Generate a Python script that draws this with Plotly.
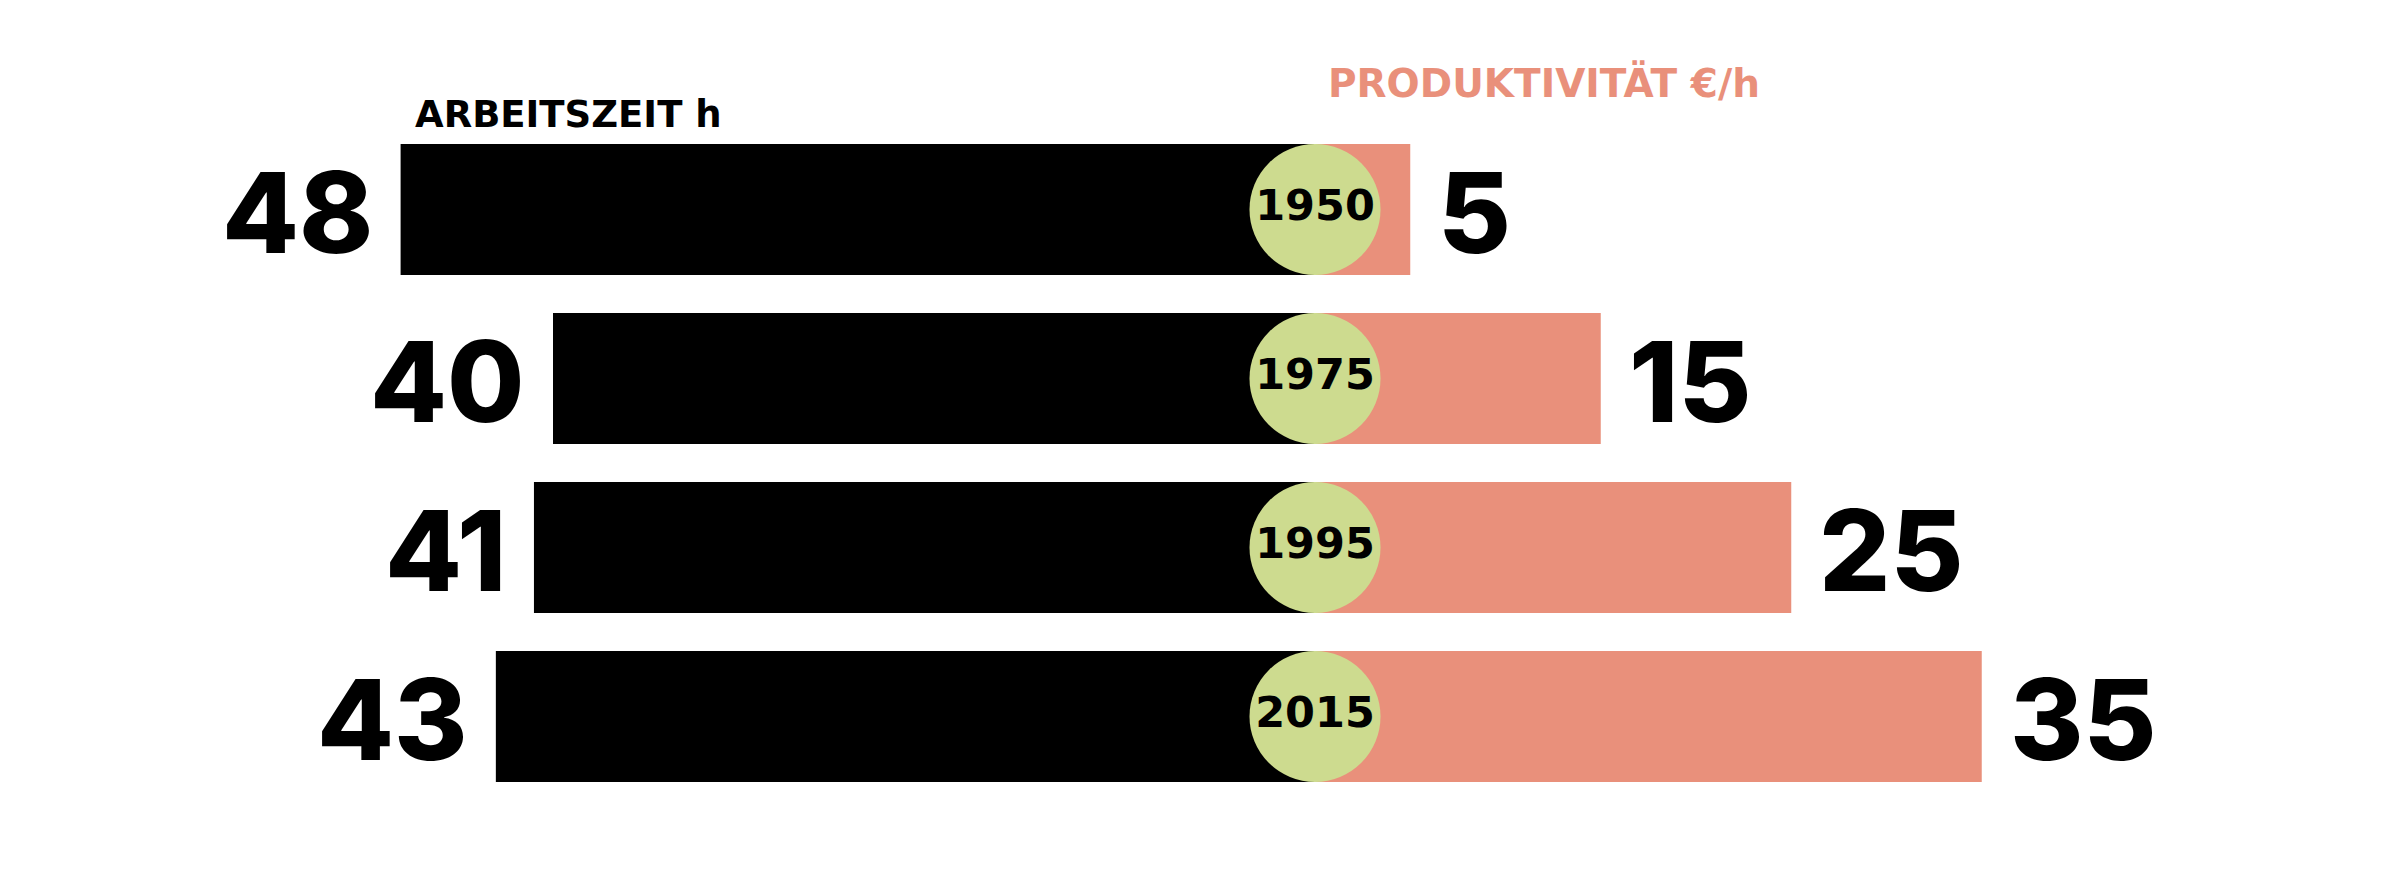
import plotly.graph_objects as go

years = ["1950", "1975", "1995", "2015"]
arbeitszeit = [48, 40, 41, 43]
produktivitaet = [5, 15, 25, 35]

BLACK = "#000000"
SALMON = "#E9907B"
GREEN = "#CDDB8F"
FONT = "Inter"
WIDE = "DejaVu Sans"

ypos = list(range(len(years)))

fig = go.Figure()
fig.add_trace(go.Bar(
    y=ypos, x=[-v for v in arbeitszeit], orientation="h", width=0.775,
    marker=dict(color=BLACK, line=dict(width=0)), hoverinfo="skip",
))
fig.add_trace(go.Bar(
    y=ypos, x=produktivitaet, orientation="h", width=0.775,
    marker=dict(color=SALMON, line=dict(width=0)), hoverinfo="skip",
))
fig.add_trace(go.Scatter(
    y=ypos, x=[0] * len(years), mode="markers+text", text=years,
    textposition="middle center",
    textfont=dict(family=WIDE, size=43, color=BLACK, weight="bold"),
    marker=dict(size=131, color=GREEN, line=dict(width=0)), hoverinfo="skip",
))

for i, (h, p) in enumerate(zip(arbeitszeit, produktivitaet)):
    fig.add_annotation(x=-h, y=i, text=str(h), showarrow=False, xanchor="right",
                       yanchor="middle", xshift=-26, yshift=-2,
                       font=dict(family=FONT, size=112, color=BLACK, weight=800))
    fig.add_annotation(x=p, y=i, text=str(p), showarrow=False, xanchor="left",
                       yanchor="middle", xshift=26, yshift=-2,
                       font=dict(family=FONT, size=112, color=BLACK, weight=800))

fig.add_annotation(xref="paper", yref="paper", x=413 / 2400, y=1 - 114 / 890,
                   text="ARBEITSZEIT h", showarrow=False, xanchor="left", yanchor="middle",
                   font=dict(family=WIDE, size=37, color=BLACK, weight="bold"))
fig.add_annotation(xref="paper", yref="paper", x=1326 / 2400, y=1 - 83 / 890,
                   text="PRODUKTIVITÄT €/h", showarrow=False, xanchor="left", yanchor="middle",
                   font=dict(family=WIDE, size=39, color=SALMON, weight="bold"))

px_per_unit = 19.05
cx = 1315
fig.update_layout(
    width=2400, height=890, margin=dict(l=0, r=0, t=0, b=0),
    paper_bgcolor="white", plot_bgcolor="white",
    barmode="overlay", showlegend=False,
    xaxis=dict(range=[-cx / px_per_unit, (2400 - cx) / px_per_unit], visible=False, fixedrange=True),
    yaxis=dict(range=[(890 - 209.5) / 169, -209.5 / 169], visible=False, fixedrange=True),
)

fig.write_html("out.html", config={"displayModeBar": False})
